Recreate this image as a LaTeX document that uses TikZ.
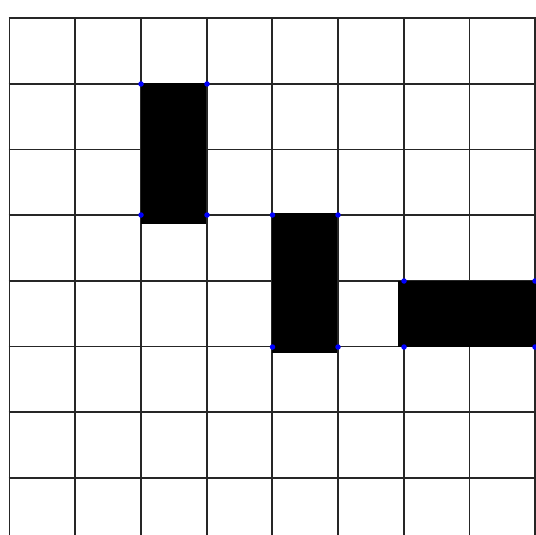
\documentclass[tikz,border=0pt]{standalone}
\begin{document}
\begin{tikzpicture}[x=1pt,y=-1pt,
  gridline/.style={line width=1.8pt,draw=black!85},
  block/.style={fill=black},
  corner/.style={circle,fill=blue,inner sep=0pt,minimum size=5.5pt}]
\useasboundingbox (0,0) rectangle (536,535);
\begin{scope}
\clip (0,0) rectangle (536,535);
\foreach \i in {0,...,8} {
  \draw[gridline] ({9.5+65.7*\i},17.1) -- ({9.5+65.7*\i},540);
}
\foreach \j in {0,...,7} {
  \draw[gridline] (8.6,{18+65.7*\j}) -- (540,{18+65.7*\j});
}
\fill[block] (141,83.3) rectangle (206,224);
\fill[block] (271.7,212.7) rectangle (336.7,353.3);
\fill[block] (398.3,280.7) rectangle (545,347.3);
\end{scope}
\foreach \p [count=\k] in {(141,84),(207,84),(141,215),(207,215),
  (272.5,215),(338,215),(272.5,347),(338,347),
  (404,281),(535,281),(404,347),(535,347)} {
  \node[corner] (c\k) at \p {};
}
\end{tikzpicture}
\end{document}
